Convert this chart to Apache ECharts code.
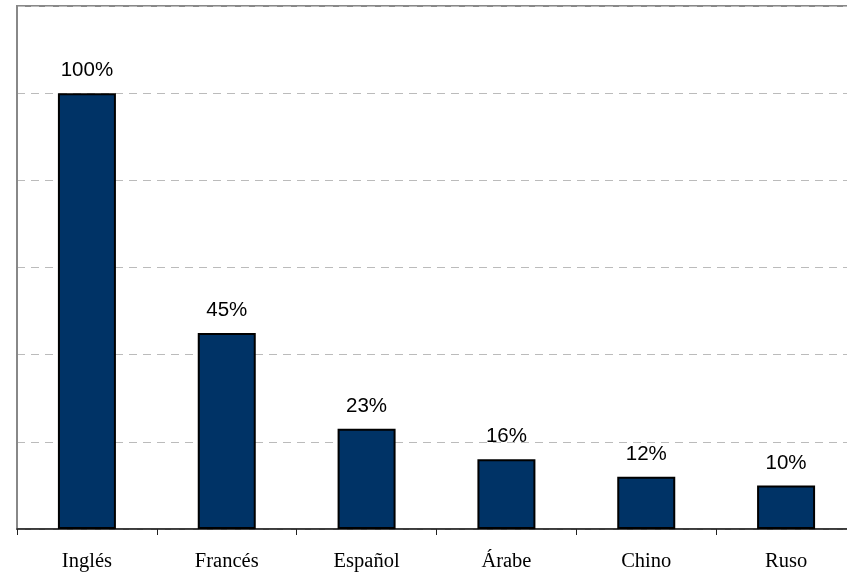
<!DOCTYPE html>
<html>
<head>
<meta charset="utf-8">
<script src="https://cdn.jsdelivr.net/npm/echarts@6/dist/echarts.min.js"></script>
<style>html,body{margin:0;padding:0;background:#fff;overflow:hidden;}#c{width:857px;height:574px;}</style>
</head>
<body>
<div id="c"></div>
<script>
const categories = ['Inglés', 'Francés', 'Español', 'Árabe', 'Chino', 'Ruso'];
const values = [100, 45, 23, 16, 12, 10];
const yTicks = [0, 20, 40, 60, 80, 100, 120];

const chart = echarts.init(document.getElementById('c'), null, {renderer: 'canvas'});
chart.setOption({
  animation: false,
  backgroundColor: '#fff',
  grid: {
    left: 17, top: 6, right: 1, bottom: 45,
    show: true, borderColor: '#888', borderWidth: 2, backgroundColor: 'transparent'
  },
  xAxis: {
    type: 'category',
    data: categories,
    axisLine: {lineStyle: {color: '#222', width: 1.5}},
    axisTick: {show: true, length: 6, lineStyle: {color: '#222'}},
    axisLabel: {fontFamily: '"Liberation Serif", "DejaVu Serif", serif', fontSize: 20.5, color: '#000', margin: 22}
  },
  yAxis: {
    type: 'value',
    min: yTicks[0],
    max: yTicks[yTicks.length - 1],
    interval: 20,
    axisLine: {show: true, lineStyle: {color: '#888', width: 2}},
    axisTick: {show: false},
    axisLabel: {show: false},
    splitLine: {show: true, lineStyle: {color: '#bbb', type: [8, 6], width: 1}}
  },
  series: [{
    type: 'bar',
    data: values,
    barWidth: 58,
    itemStyle: {color: '#003366', borderColor: '#000', borderWidth: 2},
    label: {
      show: true,
      position: 'top',
      distance: 12,
      formatter: p => p.value + '%',
      fontFamily: '"Liberation Sans", Arial, sans-serif',
      fontSize: 20.5,
      color: '#000'
    }
  }]
});
</script>
</body>
</html>
